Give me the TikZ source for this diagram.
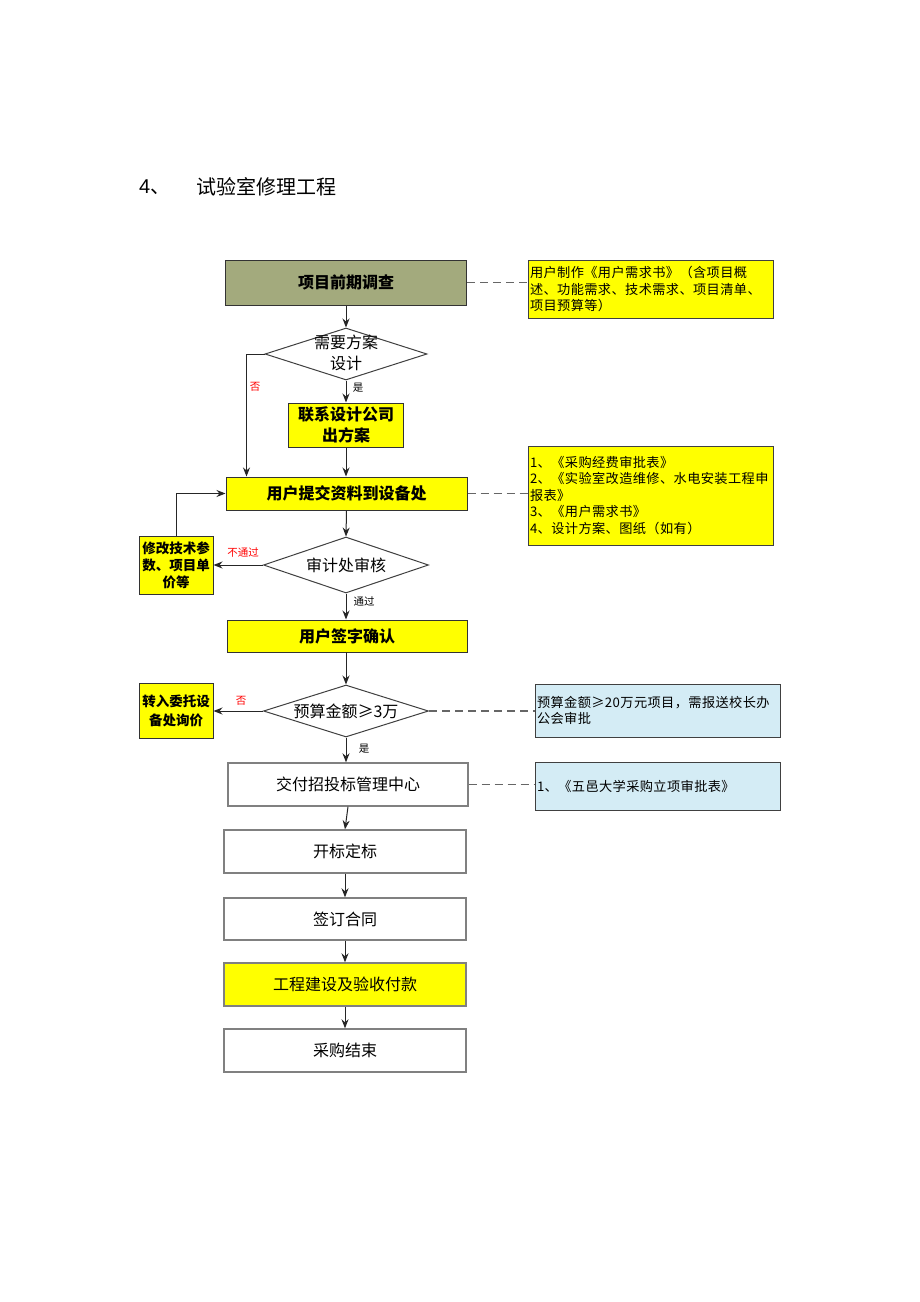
\documentclass[tikz,border=0pt]{standalone}
\usepackage{fontspec}
\setmainfont{Noto Sans CJK SC}
\newfontfamily\notefont{Noto Sans CJK SC}[LetterSpace=3]
\newfontfamily\latinfont{Liberation Sans}
\usetikzlibrary{shapes.geometric,arrows.meta}
\definecolor{yel}{RGB}{255,255,0}
\definecolor{olive1}{RGB}{163,170,125}
\definecolor{lblue}{RGB}{212,236,245}
\tikzset{
  ybox/.style={draw=black!80, line width=1pt, fill=yel, inner sep=0pt, align=center, font=\bfseries\fontsize{16}{21}\selectfont},
  wbox/.style={draw=black!50, line width=1.4pt, fill=white, inner sep=0pt, align=center, font=\fontsize{16}{21}\selectfont},
  dia/.style={diamond, draw=black!75, line width=1pt, fill=white, inner sep=0pt},
  diatext/.style={align=center, inner sep=0pt, font=\fontsize{16}{21}\selectfont},
  note/.style={draw=black!75, line width=1pt, inner xsep=2pt, inner ysep=0pt, text width=241pt, align=left, font={\notefont\fontsize{13.2}{16.5}\selectfont}},
  arr/.style={draw=black!85, line width=1pt, -{Stealth[length=9pt,width=7pt]}},
  dsh/.style={draw=black!60, line width=1.3pt, dash pattern=on 8pt off 5pt},
  lab/.style={font=\fontsize{10.5}{12}\selectfont, inner sep=0pt},
  rlab/.style={lab, text=red}
}
\begin{document}
\begin{tikzpicture}[x=1pt,y=-1pt]
\useasboundingbox (0,0) rectangle (920,1302);
\fill[white] (0,0) rectangle (920,1302);

% title
\node[anchor=west, inner sep=0pt, font=\fontsize{20}{22}\selectfont] (tnum) at (139,187) {{\latinfont 4}、};
\node[anchor=west, inner sep=0pt, font=\fontsize{20}{22}\selectfont] (title) at (196,187) {试验室修理工程};

% main column
\node[ybox, fill=olive1, minimum width=241pt, minimum height=45pt] (b1) at (346,282.5) {项目前期调查};
\node[dia, minimum width=162pt, minimum height=52pt] (d1) at (346,354) {};
\node[diatext] (d1t) at (346,353) {需要方案\\设计};
\node[ybox, minimum width=115pt, minimum height=44pt] (b2) at (346,425) {联系设计公司\\出方案};
\node[ybox, minimum width=241pt, minimum height=33pt] (b3) at (346.5,493.5) {用户提交资料到设备处};
\node[dia, minimum width=165pt, minimum height=56pt] (d2) at (346,565) {};
\node[diatext] (d2t) at (346,565) {审计处审核};
\node[ybox, minimum width=74pt, minimum height=58pt, font=\bfseries\fontsize{13.5}{17}\selectfont] (b4) at (176,565) {修改技术参\\数、项目单\\价等};
\node[ybox, minimum width=240pt, minimum height=32pt] (b5) at (347,636) {用户签字确认};
\node[dia, minimum width=165pt, minimum height=52pt] (d3) at (346,711) {};
\node[diatext] (d3t) at (346,711) {预算金额≥3万};
\node[ybox, minimum width=74pt, minimum height=55pt, font=\bfseries\fontsize{13.5}{19}\selectfont] (b6) at (176,711) {转入委托设\\备处询价};
\node[wbox, minimum width=240pt, minimum height=43pt] (b7) at (348,784.5) {交付招投标管理中心};
\node[wbox, minimum width=242pt, minimum height=43pt] (b8) at (345,851.5) {开标定标};
\node[wbox, minimum width=242pt, minimum height=42pt] (b9) at (345,919) {签订合同};
\node[wbox, fill=yel, minimum width=242pt, minimum height=43pt] (b10) at (345,984.5) {工程建设及验收付款};
\node[wbox, minimum width=242pt, minimum height=43pt] (b11) at (345,1050.5) {采购结束};

% notes
\node[note, fill=yel, minimum height=58pt] (n1) at (650.5,289) {用户制作《用户需求书》（含项目概\\述、功能需求、技术需求、项目清单、\\项目预算等）};
\node[note, fill=yel, minimum height=99pt] (n2) at (650.5,495.5) {1、《采购经费审批表》\\2、《实验室改造维修、水电安装工程申\\报表》\\3、《用户需求书》\\4、设计方案、图纸（如有）};
\node[note, fill=lblue, minimum height=53pt] (n3) at (657.5,710.5) {预算金额≥20万元项目，需报送校长办\\公会审批};
\node[note, fill=lblue, minimum height=48pt] (n4) at (657.5,786) {1、《五邑大学采购立项审批表》};

% arrows
\draw[arr] (b1.south) -- (d1.north);
\draw[arr] (d1.south) -- (b2.north);
\draw[arr] (b2.south) -- (b2.south |- b3.north);
\draw[arr] (d1.west) -| ([xshift=21pt]b3.north west);
\draw[arr] (b3.south) -- (d2.north);
\draw[arr] (d2.west) -- (b4.east);
\draw[arr] (b4.north) |- (b3.west);
\draw[arr] (d2.south) -- (d2.south |- b5.north);
\draw[arr] (b5.south) -- (b5.south -| d3.north) -- (d3.north);
\draw[arr] (d3.west) -- (b6.east);
\draw[arr] (d3.south) -- (d3.south |- b7.north);
\draw[arr] (b7.south) -- (b8.north);
\draw[arr] (b8.south) -- (b9.north);
\draw[arr] (b9.south) -- (b10.north);
\draw[arr] (b10.south) -- (b11.north);

% dashed links
\draw[dsh] (b1.east) -- (b1.east -| n1.west);
\draw[dsh] (b3.east) -- (b3.east -| n2.west);
\draw[dsh] (d3.east) -- (d3.east -| n3.west);
\draw[dsh] (b7.east) -- (b7.east -| n4.west);

% labels
\node[rlab] (l1) at (255,387) {否};
\node[lab] (l2) at (358,388) {是};
\node[rlab] (l3) at (243,553) {不通过};
\node[lab] (l4) at (364,601) {通过};
\node[rlab] (l5) at (241,701) {否};
\node[lab] (l6) at (364,749) {是};
\end{tikzpicture}
\end{document}
